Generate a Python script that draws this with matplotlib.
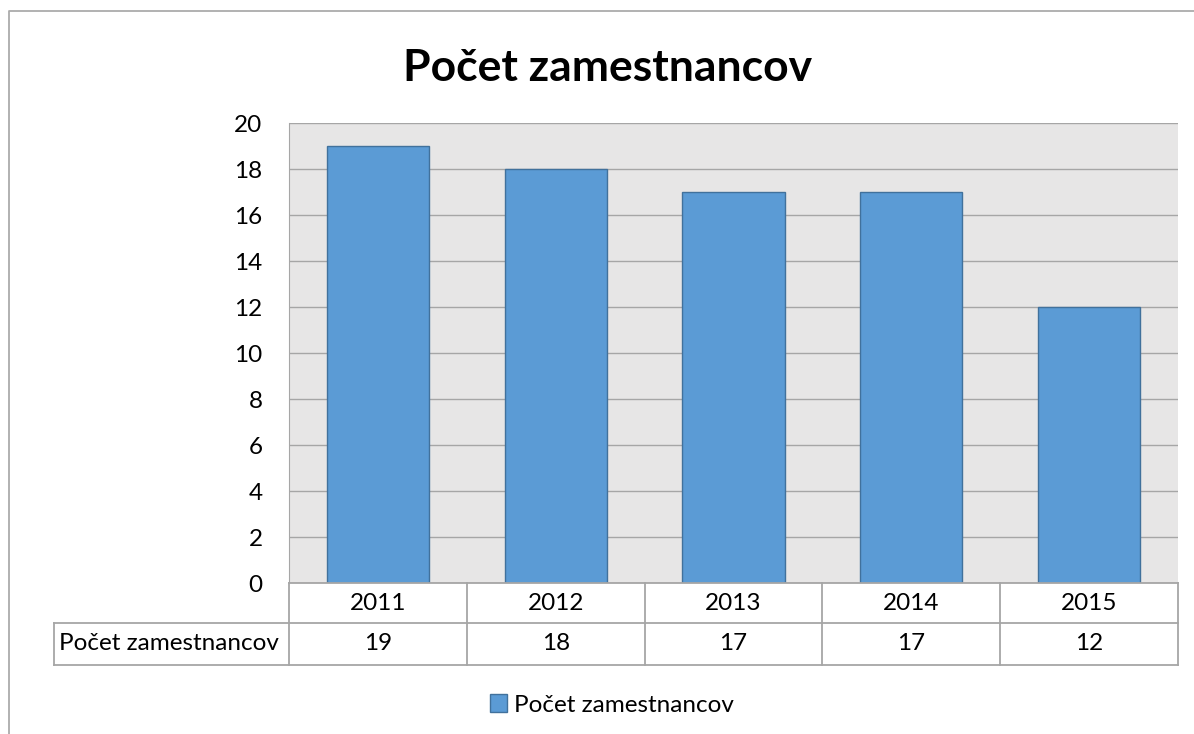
import matplotlib.pyplot as plt
from matplotlib.lines import Line2D
from matplotlib.patches import Patch
import matplotlib.transforms as mtransforms

years = ['2011', '2012', '2013', '2014', '2015']
employees = [19, 18, 17, 17, 12]
series_name = 'Počet zamestnancov'
title = 'Počet zamestnancov'

plt.rcParams['font.family'] = ['Lato', 'DejaVu Sans']

W, H = 1194, 734
fig = plt.figure(figsize=(W / 100, H / 100), dpi=100)

# plot area in pixels
left_px, right_px, top_px, bottom_px = 289, 1178, 123, 583
ax = fig.add_axes([left_px / W, 1 - bottom_px / H,
                   (right_px - left_px) / W, (bottom_px - top_px) / H])
ax.set_facecolor('#E7E6E6')

x = list(range(len(years)))
ax.bar(x, employees, width=0.575, color='#5B9BD5', edgecolor='#41719C',
       linewidth=1, zorder=3)

ax.set_xlim(-0.5, len(years) - 0.5)
ax.set_ylim(0, 20)
ax.set_yticks(range(0, 21, 2))
ax.tick_params(axis='y', length=0, pad=19, labelsize=17.5)
ax.set_xticks([])
ax.grid(axis='y', color='#A6A6A6', linewidth=1, zorder=1)
for s in ['top', 'right', 'bottom']:
    ax.spines[s].set_visible(False)
ax.spines['left'].set_color('#A6A6A6')

# data table under the plot
plot_h = bottom_px - top_px
row1 = -40 / plot_h
row2 = -82 / plot_h
label_left = (54 - left_px) / (right_px - left_px)
line_kw = dict(color='#A6A6A6', linewidth=1.3, clip_on=False, zorder=4)
blend = mtransforms.blended_transform_factory(ax.transData, ax.transAxes)

ax.plot([-0.5, len(years) - 0.5], [0, 0], transform=blend, **line_kw)
ax.plot([label_left, 1], [row1, row1], transform=ax.transAxes, **line_kw)
ax.plot([label_left, 1], [row2, row2], transform=ax.transAxes, **line_kw)
ax.plot([label_left, label_left], [row1, row2], transform=ax.transAxes, **line_kw)
for b in [i - 0.5 for i in range(len(years) + 1)]:
    ax.plot([b, b], [0, row2], transform=blend, **line_kw)

for i, (yr, v) in enumerate(zip(years, employees)):
    ax.text(i, row1 / 2, yr, transform=blend, ha='center', va='center',
            fontsize=17.5)
    ax.text(i, (row1 + row2) / 2, str(v), transform=blend, ha='center',
            va='center', fontsize=17.5)
ax.text(label_left + 0.006, (row1 + row2) / 2, series_name,
        transform=ax.transAxes, ha='left', va='center', fontsize=17.5)

fig.text(608 / W, 1 - 68 / H, title, ha='center', va='center',
         fontsize=32, fontweight='bold')

handle = Patch(facecolor='#5B9BD5', edgecolor='#41719C', linewidth=1)
fig.legend([handle], [series_name], loc='center',
           bbox_to_anchor=(612 / W, 1 - 705 / H), frameon=False, fontsize=17.5,
           handlelength=0.72, handleheight=0.72, handletextpad=0.3)

# chart border (right and bottom are cut off in the reference)
fig.add_artist(Line2D([9 / W, 9 / W, 1], [0, 1 - 11 / H, 1 - 11 / H],
                      transform=fig.transFigure, color='#ABABAB', linewidth=1.3))

fig.savefig('out.png', dpi=100)
